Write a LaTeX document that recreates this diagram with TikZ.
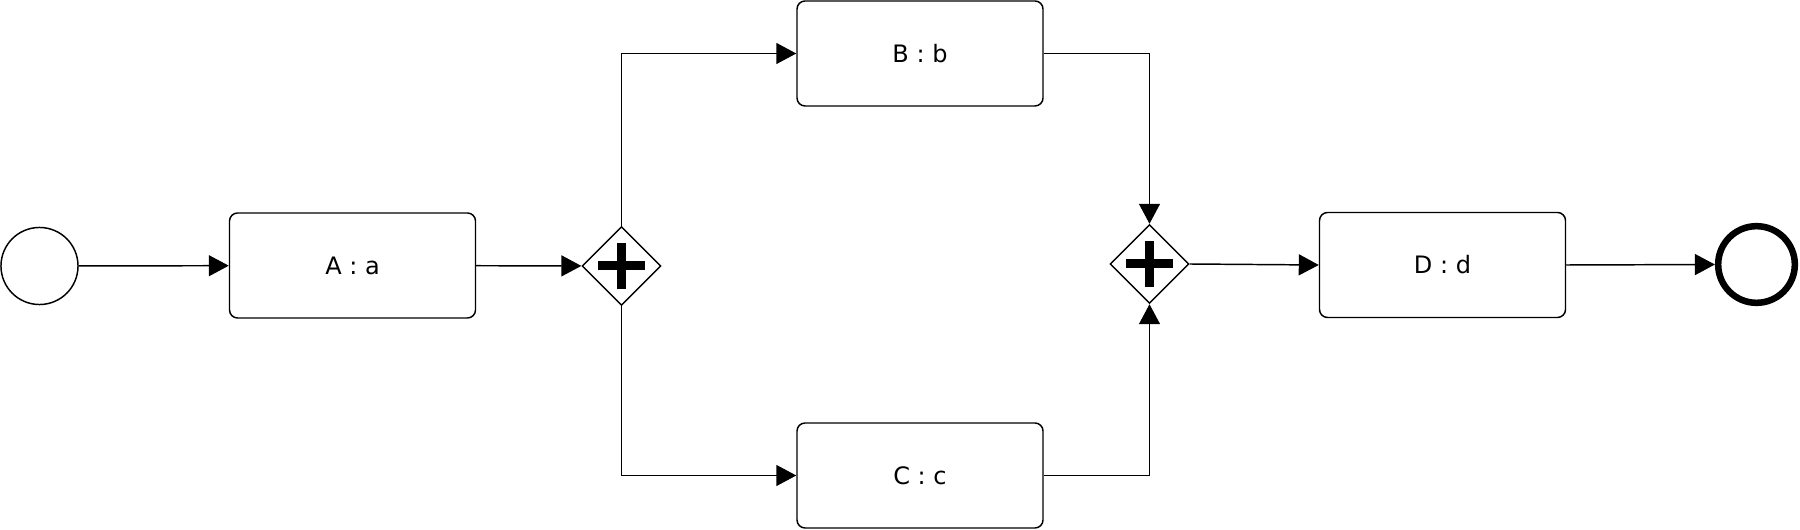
\documentclass[tikz,border=0pt]{standalone}
\usepackage{fontspec}
\setmainfont{DejaVu Sans}
\usepackage{tikz}
\usetikzlibrary{shapes.geometric, arrows.meta, positioning, calc}

\tikzset{
    event/.style={circle, draw, line width=1.1pt, minimum size=57.8pt, inner sep=0pt},
    endevent/.style={circle, draw, line width=4.9pt, minimum size=57.5pt, inner sep=0pt},
    task/.style={rectangle, rounded corners=6pt, draw, line width=1.1pt,
        minimum width=184.5pt, minimum height=78.75pt, font=\fontsize{18}{22}\selectfont},
    parallel/.style={diamond, draw, line width=1.1pt, minimum size=59.25pt, inner sep=0pt,
        path picture={
            \draw[line width=6.75pt] ([xshift=-17.6pt]path picture bounding box.center)
                -- ([xshift=17.6pt]path picture bounding box.center);
            \draw[line width=6.5pt] ([yshift=-17.6pt]path picture bounding box.center)
                -- ([yshift=17.6pt]path picture bounding box.center);
        }},
    flow/.style={-{Triangle[length=15pt,width=15.75pt]}, line width=1.1pt}
}

\begin{document}
\begin{tikzpicture}[x=0.75pt, y=-0.75pt]
    \useasboundingbox (0,0) rectangle (1800,530);
    % nodes
    \node[event] (start) at (39.5,266) {};
    \node[task] (taskA) at (352.5,265.5) {A : a};
    \node[parallel] (fork) at (621.5,266) {};
    \node[task] (taskB) at (920,53.5) {B : b};
    \node[task] (taskC) at (920,475.5) {C : c};
    \node[parallel] (join) at (1149.5,264) {};
    \node[task] (taskD) at (1442.5,265) {D : d};
    \node[endevent] (finish) at (1756.5,264.5) {};
    % sequence flows
    \draw[flow] (start) -- (taskA);
    \draw[flow] (taskA) -- (fork);
    \draw[flow] (fork.north) |- (taskB.west);
    \draw[flow] (fork.south) |- (taskC.west);
    \draw[flow] (taskB.east) -| (join.north);
    \draw[flow] (taskC.east) -| (join.south);
    \draw[flow] (join.east) -- (taskD.west);
    \draw[flow] (taskD.east) -- (finish.west);
\end{tikzpicture}
\end{document}
